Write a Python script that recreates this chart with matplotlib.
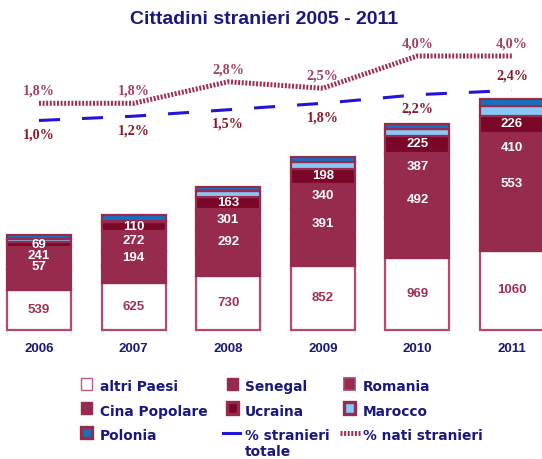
import numpy as np
import matplotlib
matplotlib.use('Agg')
import matplotlib.pyplot as plt
from matplotlib.patches import Rectangle
from matplotlib.lines import Line2D

# data
years = ['2006', '2007', '2008', '2009', '2010', '2011']
altri = [539, 625, 730, 852, 969, 1060]
senegal = [271, 240, 302, 379, 527, 620]
romania = [57, 194, 292, 391, 492, 553]
cina = [241, 272, 301, 340, 387, 410]
ucraina = [69, 110, 163, 198, 225, 226]
marocco = [40, 20, 74, 85, 90, 130]
polonia = [55, 75, 60, 70, 70, 95]
pct_totale = [1.0, 1.2, 1.5, 1.8, 2.2, 2.4]
pct_nati = [1.8, 1.8, 2.8, 2.5, 4.0, 4.0]

title = 'Cittadini stranieri 2005 - 2011'

W, H = 542, 459
navy = '#18187e'
maroon = '#972b4d'
dark = '#7a0628'
light_blue = '#88c8f6'
blue = '#1470c0'
line_blue = '#2414d8'
line_dot = '#9e2f55'

fig = plt.figure(figsize=(W / 100, H / 100), dpi=100)
ax = fig.add_axes([0, 129 / H, 1, 290 / H])
x = np.arange(len(years))
ax.set_xlim(-0.412, 5.317)
ax.set_ylim(0, 290 * 13.4)

series = [
    (altri, 'white', '#b8476c', '#a03050'),
    (senegal, maroon, maroon, None),
    (romania, maroon, maroon, 'white'),
    (cina, maroon, maroon, 'white'),
    (ucraina, dark, maroon, 'white'),
    (marocco, light_blue, maroon, None),
    (polonia, blue, maroon, None),
]
bottom = np.zeros(len(years))
for vals, fc, ec, tc in series:
    vals = np.array(vals, dtype=float)
    ax.bar(x, vals, 0.677, bottom=bottom, color=fc, edgecolor=ec,
           linewidth=1.6, clip_on=False, zorder=2)
    if tc:
        for xi, b, v in zip(x, bottom, vals):
            ax.text(xi, b + v / 2, str(int(v)), ha='center', va='center',
                    color=tc, fontsize=9.5, fontweight='bold',
                    family='Liberation Sans', zorder=4)
    bottom += vals

ax.set_xticks(x, years)
ax.tick_params(axis='x', length=0, pad=9, labelcolor=navy)
for lab in ax.get_xticklabels():
    lab.set_fontfamily('Liberation Sans')
    lab.set_fontweight('bold')
    lab.set_fontsize(9.5)
ax.set_yticks([])
for s in ax.spines.values():
    s.set_visible(False)

ax2 = ax.twinx()
ax2.set_ylim(-8.744, 4.744)
ax2.set_yticks([])
for s in ax2.spines.values():
    s.set_visible(False)
ax2.plot(x, pct_nati, color=line_dot, lw=3.6, ls=(0, (0.4, 0.32)),
         dash_capstyle='butt', zorder=3)
ax2.plot(x, pct_totale, color=line_blue, lw=2.2, ls=(0, (6.9, 7.2)),
         dash_capstyle='butt', zorder=3)


def pct(v):
    return f'{v:.1f}%'.replace('.', ',')


for xi, v in zip(x, pct_nati):
    ax2.annotate(pct(v), (xi, v), xytext=(0, 8.7), textcoords='offset points',
                 ha='center', va='center', color='#a3405f', fontsize=10.2,
                 fontweight='bold', family='Liberation Serif')
for i, (xi, v) in enumerate(zip(x, pct_totale)):
    dy = 10.6 if i == len(x) - 1 else -10.6
    ax2.annotate(pct(v), (xi, v), xytext=(0, dy), textcoords='offset points',
                 ha='center', va='center', color='#8b1a28', fontsize=10.2,
                 fontweight='bold', family='Liberation Serif')

# overlay in pixel units for title and legend
lax = fig.add_axes([0, 0, 1, 1], zorder=5)
lax.set_xlim(0, W)
lax.set_ylim(H, 0)
lax.axis('off')
lax.patch.set_alpha(0)

lax.text(264, 20, title, ha='center', va='center', fontsize=14,
         fontweight='bold', color=navy, family='Liberation Sans')

col_x = [79.5, 225.5, 342.5]
text_x = [100, 245, 363]
row_c = [383.8, 408, 432.6]
row_base = [391, 416, 440]

entries = [
    (0, 0, 'altri Paesi', 'white', '#c0587a', 1.0),
    (1, 0, 'Senegal', maroon, maroon, 1.0),
    (2, 0, 'Romania', maroon, '#a84468', 1.2),
    (0, 1, 'Cina Popolare', maroon, maroon, 1.0),
    (1, 1, 'Ucraina', dark, maroon, 2.4),
    (2, 1, 'Marocco', light_blue, maroon, 2.4),
    (0, 2, 'Polonia', blue, maroon, 2.4),
]
for c, r, label, fc, ec, lw in entries:
    lax.add_patch(Rectangle((col_x[c] + 1, row_c[r] - 5.8), 11.5, 11.5,
                            facecolor=fc, edgecolor=ec, linewidth=lw))
    lax.text(text_x[c], row_base[r], label, ha='left', va='baseline',
             fontsize=9.9, fontweight='bold', color=navy, family='DejaVu Sans')

lax.add_line(Line2D([223, 240], [row_c[2], row_c[2]], color=line_blue, lw=2.2))
lax.add_line(Line2D([340, 359.5], [row_c[2], row_c[2]], color=line_dot, lw=3.6,
                    ls=(0, (0.4, 0.32)), dash_capstyle='butt'))
lax.text(text_x[1], row_base[2], '% stranieri', ha='left', va='baseline',
         fontsize=9.9, fontweight='bold', color=navy, family='DejaVu Sans')
lax.text(text_x[1], 455.5, 'totale', ha='left', va='baseline',
         fontsize=9.9, fontweight='bold', color=navy, family='DejaVu Sans')
lax.text(text_x[2], row_base[2], '% nati stranieri', ha='left', va='baseline',
         fontsize=9.9, fontweight='bold', color=navy, family='DejaVu Sans')

fig.savefig('out.png', dpi=100)
